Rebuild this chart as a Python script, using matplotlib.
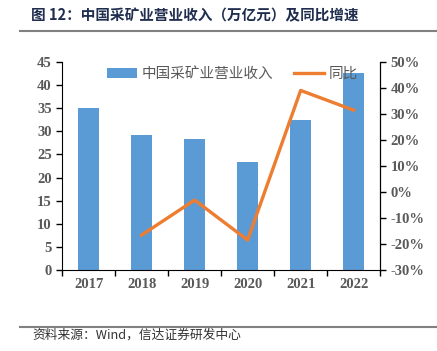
import numpy as np
import matplotlib.pyplot as plt
from matplotlib.ticker import FuncFormatter, FixedLocator

plt.rcParams['font.family'] = ['Noto Sans CJK SC', 'DejaVu Sans']

years = ['2017', '2018', '2019', '2020', '2021', '2022']
revenue = [35.1, 29.3, 28.4, 23.3, 32.4, 42.7]
yoy_years = ['2018', '2019', '2020', '2021', '2022']
yoy = [-16.6, -3.1, -18.5, 39.1, 31.5]

grey = '#595959'
serif = {'family': 'Liberation Serif', 'weight': 'bold', 'size': 10.5}

fig = plt.figure(figsize=(4.37, 3.51), dpi=100)
ax = fig.add_axes([0.142, 0.231, 0.728, 0.592])
ax2 = ax.twinx()

x = np.arange(len(years))
ax.bar(x, revenue, width=0.4, color='#5B9BD5', label='中国采矿业营业收入', zorder=2)
xi = [years.index(y) for y in yoy_years]
ax2.plot(xi, yoy, color='#ED7D31', lw=2.4, label='同比', zorder=3)

ax.set_xlim(-0.5, len(years) - 0.5)
ax.set_ylim(0, 45)
ax.set_yticks(np.arange(0, 46, 5))
ax2.set_ylim(-30, 50)
ax2.set_yticks(np.arange(-30, 51, 10))
ax2.yaxis.set_major_formatter(FuncFormatter(lambda v, p: f'{v:.0f}%'))

ax.set_xticks(x)
ax.set_xticklabels(years)
ax.xaxis.set_minor_locator(FixedLocator(np.arange(-0.5, len(years), 1)))
ax.tick_params(axis='x', which='major', length=0, pad=6)
ax.tick_params(axis='x', which='minor', length=4, direction='out', width=1)
ax.tick_params(axis='y', length=4, direction='out', width=1)
ax2.tick_params(axis='y', length=4, direction='out', width=1)

for a in (ax, ax2):
    a.spines['top'].set_visible(False)
    for lab in a.get_xticklabels() + a.get_yticklabels():
        lab.set_fontproperties(serif)
        lab.set_color(grey)
ax2.spines['left'].set_visible(False)
ax2.spines['bottom'].set_visible(False)

h1, l1 = ax.get_legend_handles_labels()
h2, l2 = ax2.get_legend_handles_labels()
leg = ax2.legend(h1 + h2, l1 + l2, loc='upper center', bbox_to_anchor=(0.535, 1.04),
                 ncol=2, frameon=False, fontsize=10.5, handlelength=2.1,
                 columnspacing=1.4, handletextpad=0.3)
for t in leg.get_texts():
    t.set_color(grey)

fig.text(0.07, 0.955, '图 12：中国采矿业营业收入（万亿元）及同比增速', fontsize=10.5,
         weight='bold', color='#1F2D4F', va='center', ha='left')
fig.add_artist(plt.Line2D([0.046, 1.0], [0.911, 0.911], color='#808080', lw=1.5))
fig.add_artist(plt.Line2D([0.046, 1.0], [0.067, 0.067], color='#808080', lw=1.5))
fig.text(0.073, 0.045, '资料来源：Wind，信达证券研发中心', fontsize=9.2,
         color='#333333', va='center', ha='left')

fig.savefig('out.png', dpi=100)
